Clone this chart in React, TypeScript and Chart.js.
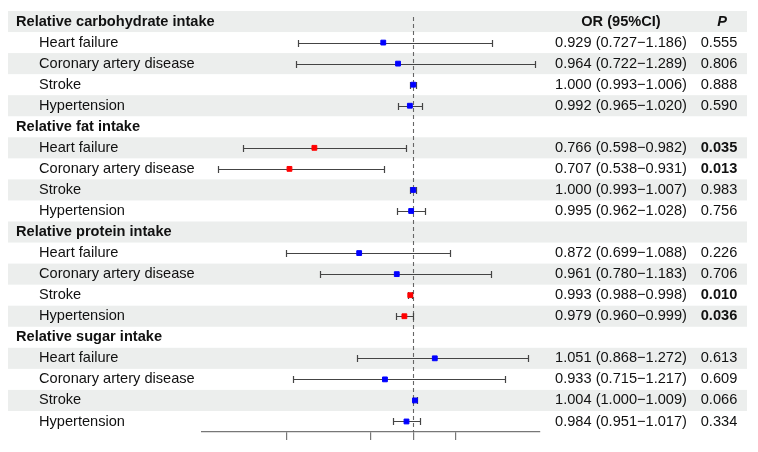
import React, { useEffect, useRef } from "react";
import { Chart, registerables } from "chart.js";

Chart.register(...registerables);

const groups = [
  "Relative carbohydrate intake",
  "Relative fat intake",
  "Relative protein intake",
  "Relative sugar intake",
];
const outcomes = ["Heart failure", "Coronary artery disease", "Stroke", "Hypertension"];

const orValues = [
  0.929, 0.964, 1.0, 0.992,
  0.766, 0.707, 1.0, 0.995,
  0.872, 0.961, 0.993, 0.979,
  1.051, 0.933, 1.004, 0.984,
];
const lowerCI = [
  0.727, 0.722, 0.993, 0.965,
  0.598, 0.538, 0.993, 0.962,
  0.699, 0.78, 0.988, 0.96,
  0.868, 0.715, 1.0, 0.951,
];
const upperCI = [
  1.186, 1.289, 1.006, 1.02,
  0.982, 0.931, 1.007, 1.028,
  1.088, 1.183, 0.998, 0.999,
  1.272, 1.217, 1.009, 1.017,
];
const pValues = [
  "0.555", "0.806", "0.888", "0.590",
  "0.035", "0.013", "0.983", "0.756",
  "0.226", "0.706", "0.010", "0.036",
  "0.613", "0.609", "0.066", "0.334",
];
const xTicks = [0.7, 0.9, 1.0, 1.1];
const xMin = 0.5;
const xMax = 1.3;

const FONT = "'Liberation Sans', Arial, sans-serif";
const FS = 14.6;

const fmt = (v: number) => v.toFixed(3);

export default function App() {
  const ref = useRef<HTMLCanvasElement | null>(null);

  useEffect(() => {
    document.body.style.margin = "0";
    const canvas = ref.current;
    if (!canvas) return;

    const nRows = groups.length * (outcomes.length + 1);
    const rowOf = (i: number) => Math.floor(i / outcomes.length) * (outcomes.length + 1) + 1 + (i % outcomes.length);
    const sig = (i: number) => parseFloat(pValues[i]) < 0.05;

    const points = orValues.map((v, i) => ({ x: v, y: rowOf(i) }));
    const colors = orValues.map((_, i) => (sig(i) ? "#ff0000" : "#0000ff"));

    const forestPlugin = {
      id: "forest",
      beforeDatasetsDraw(chart: any) {
        const { ctx, scales } = chart;
        const x = scales.x;
        const y = scales.y;
        ctx.save();
        // row shading
        ctx.fillStyle = "#eceeed";
        for (let r = 0; r < nRows; r += 2) {
          const t = y.getPixelForValue(r - 0.5);
          const b = y.getPixelForValue(r + 0.5);
          ctx.fillRect(8, t, 739, b - t);
        }
        // reference line
        const x1 = Math.round(x.getPixelForValue(1)) + 0.5;
        ctx.strokeStyle = "#666666";
        ctx.lineWidth = 1.1;
        ctx.setLineDash([4, 3]);
        ctx.beginPath();
        ctx.moveTo(x1, chart.chartArea.top + 6);
        ctx.lineTo(x1, chart.chartArea.bottom);
        ctx.stroke();
        ctx.setLineDash([]);
        // error bars
        ctx.strokeStyle = "#444444";
        ctx.lineWidth = 1.2;
        orValues.forEach((_, i) => {
          const yy = Math.round(y.getPixelForValue(rowOf(i))) + 0.5;
          const xl = Math.round(x.getPixelForValue(lowerCI[i])) + 0.5;
          const xu = Math.round(x.getPixelForValue(upperCI[i])) + 0.5;
          ctx.beginPath();
          ctx.moveTo(xl, yy);
          ctx.lineTo(xu, yy);
          ctx.moveTo(xl, yy - 3.5);
          ctx.lineTo(xl, yy + 3.5);
          ctx.moveTo(xu, yy - 3.5);
          ctx.lineTo(xu, yy + 3.5);
          ctx.stroke();
        });
        ctx.restore();
      },
      afterDraw(chart: any) {
        const { ctx, scales } = chart;
        const y = scales.y;
        ctx.save();
        ctx.fillStyle = "#111111";
        ctx.textBaseline = "middle";
        const orX = 621;
        const pX = 719;
        groups.forEach((g, gi) => {
          const r = gi * (outcomes.length + 1);
          const yy = y.getPixelForValue(r);
          ctx.font = `bold ${FS}px ${FONT}`;
          ctx.textAlign = "left";
          ctx.fillText(g, 16, yy);
          if (gi === 0) {
            ctx.textAlign = "center";
            ctx.fillText("OR (95%CI)", orX, yy);
            ctx.font = `italic bold ${FS}px ${FONT}`;
            ctx.fillText("P", pX + 3, yy);
          }
        });
        orValues.forEach((v, i) => {
          const yy = y.getPixelForValue(rowOf(i));
          ctx.font = `${FS}px ${FONT}`;
          ctx.textAlign = "left";
          ctx.fillText(outcomes[i % outcomes.length], 39, yy);
          ctx.textAlign = "center";
          ctx.fillText(`${fmt(v)} (${fmt(lowerCI[i])}\u2212${fmt(upperCI[i])})`, orX, yy);
          ctx.font = sig(i) ? `bold ${FS}px ${FONT}` : `${FS}px ${FONT}`;
          ctx.fillText(pValues[i], pX, yy);
        });
        ctx.restore();
      },
    };

    const chart = new Chart(canvas, {
      type: "scatter",
      data: {
        datasets: [
          {
            data: points,
            pointStyle: "rect",
            pointRadius: 3.4,
            pointBorderWidth: 1,
            backgroundColor: colors,
            borderColor: colors,
          },
        ],
      },
      options: {
        animation: false,
        responsive: false,
        devicePixelRatio: 1,
        layout: { padding: { left: 202, right: 218, top: 11, bottom: 12 } },
        plugins: { legend: { display: false }, tooltip: { enabled: false } },
        scales: {
          x: {
            type: "linear",
            min: xMin,
            max: xMax,
            afterBuildTicks: (scale: any) => {
              scale.ticks = xTicks.map((v) => ({ value: v }));
            },
            ticks: { display: false },
            grid: { drawOnChartArea: false, drawTicks: true, tickLength: 8, color: "#777777", lineWidth: 1.2 },
            border: { display: true, color: "#777777", width: 1.2 },
          },
          y: {
            type: "linear",
            min: -0.5,
            max: nRows - 0.5,
            reverse: true,
            display: false,
          },
        },
      },
      plugins: [forestPlugin],
    });

    return () => chart.destroy();
  }, []);

  return <canvas ref={ref} width={758} height={452} style={{ display: "block" }} />;
}
